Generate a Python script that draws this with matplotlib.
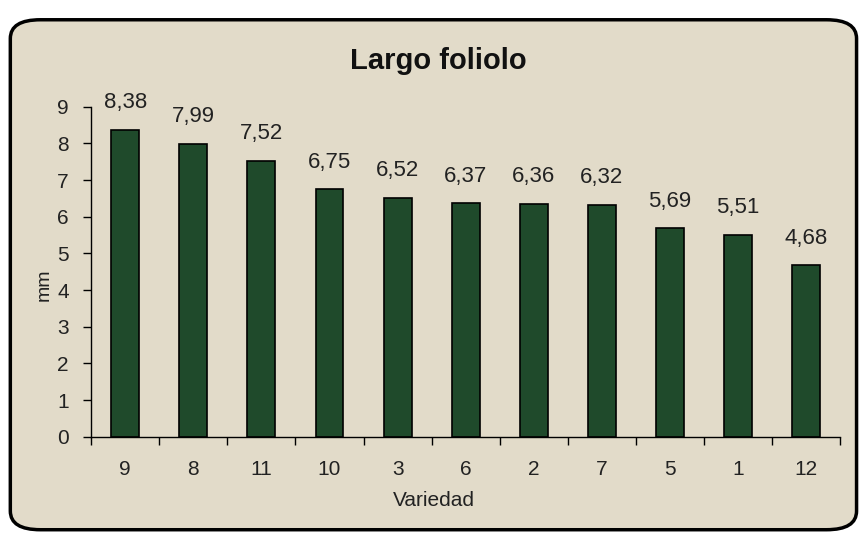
import matplotlib.pyplot as plt
from matplotlib.patches import FancyBboxPatch
import numpy as np

plt.rcParams['font.family'] = ['Liberation Sans', 'DejaVu Sans']

variedades = ['9', '8', '11', '10', '3', '6', '2', '7', '5', '1', '12']
largo = [8.38, 7.99, 7.52, 6.75, 6.52, 6.37, 6.36, 6.32, 5.69, 5.51, 4.68]
etiquetas = ['8,38', '7,99', '7,52', '6,75', '6,52', '6,37', '6,36', '6,32', '5,69', '5,51', '4,68']

fondo = '#e2dbc9'
verde = '#1f4a2b'

fig = plt.figure(figsize=(8.6, 5.34), dpi=100)
fig.patch.set_facecolor('white')

# marco redondeado
marco = FancyBboxPatch((0.012, 0.008), 0.984, 0.955,
                       boxstyle='round,pad=0,rounding_size=0.035',
                       transform=fig.transFigure, facecolor=fondo,
                       edgecolor='black', linewidth=2.5, zorder=-5)
fig.add_artist(marco)

ax = fig.add_axes([0.106, 0.182, 0.871, 0.618])
ax.set_facecolor('none')
ax.set_zorder(2)

x = np.arange(len(variedades))
ax.bar(x, largo, width=0.41, color=verde, edgecolor='black', linewidth=1.2)

for xi, v, t in zip(x, largo, etiquetas):
    ax.annotate(t, (xi, v), xytext=(0, 12), textcoords='offset points',
                ha='center', va='bottom', fontsize=16, color='#222222')

ax.set_xlim(-0.5, len(variedades) - 0.5)
ax.set_ylim(0, 9)
ax.set_yticks(range(0, 10))
ax.set_xticks(x)
ax.set_xticklabels(variedades)
ax.set_xticks(np.arange(-0.5, len(variedades), 1), minor=True)
ax.tick_params(axis='x', which='major', length=0, pad=17, labelsize=15, labelcolor='#222222')
ax.tick_params(axis='x', which='minor', length=6, direction='out', width=1)
ax.tick_params(axis='y', length=6, direction='out', width=1, labelsize=15, labelcolor='#222222', pad=10)

for s in ['top', 'right']:
    ax.spines[s].set_visible(False)
for s in ['left', 'bottom']:
    ax.spines[s].set_linewidth(1)

ax.set_xlabel('Variedad', fontsize=15, color='#222222')
ax.xaxis.set_label_coords(0.457, -0.165)
ax.set_ylabel('mm', fontsize=14, color='#222222')
ax.yaxis.set_label_coords(-0.052, 0.46)

fig.text(0.51, 0.885, 'Largo foliolo', ha='center', va='center',
         fontsize=21, fontweight='bold', color='#111111', zorder=3)

fig.savefig('out.png', dpi=100)
